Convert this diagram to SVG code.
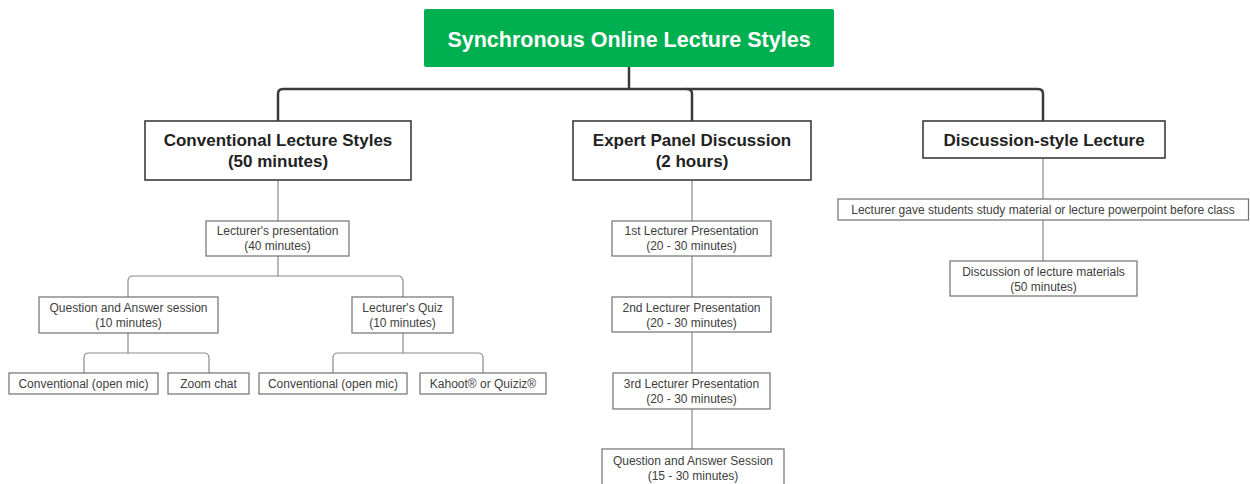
<svg xmlns="http://www.w3.org/2000/svg" width="1250" height="484" viewBox="0 0 1250 484">
<style>
.bg{fill:#ffffff}
.title{fill:#00b050}
.ttl{font-family:"Liberation Sans",Arial,sans-serif;font-weight:bold;font-size:21.5px;fill:#ffffff;text-anchor:middle}
.big{fill:#ffffff;stroke:#3c3c3c;stroke-width:1.6}
.bt{font-family:"Liberation Sans",Arial,sans-serif;font-weight:bold;font-size:17px;fill:#222222;text-anchor:middle}
.sm{fill:#ffffff;stroke:#707070;stroke-width:1.2}
.st{font-family:"Liberation Sans",Arial,sans-serif;font-size:12px;fill:#404040;text-anchor:middle}
.thick{fill:none;stroke:#3a3a3a;stroke-width:2.5}
.thin{fill:none;stroke:#8a8a8a;stroke-width:1.2}
</style>
<rect class="bg" x="0" y="0" width="1250" height="484"/>
<g id="connectors">
<path class="thick" d="M629 67 V89"/>
<path class="thick" d="M278 121 V94 Q278 89 283 89 H1038 Q1043 89 1043 94 V121"/>
<path class="thick" d="M687 89 Q692 89 692 94 V121"/>
<path class="thin" d="M278 180 V221"/>
<path class="thin" d="M278 256 V276"/>
<path class="thin" d="M128 297 V281 Q128 276 133 276 H398 Q403 276 403 281 V297"/>
<path class="thin" d="M128 333 V353"/>
<path class="thin" d="M84 373 V358 Q84 353 89 353 H204 Q209 353 209 358 V373"/>
<path class="thin" d="M403 333 V353"/>
<path class="thin" d="M333 373 V358 Q333 353 338 353 H478 Q483 353 483 358 V373"/>
<path class="thin" d="M692 180 V221"/>
<path class="thin" d="M692 256 V297"/>
<path class="thin" d="M692 332 V373"/>
<path class="thin" d="M692 409 V449"/>
<path class="thin" d="M1043 158 V199"/>
<path class="thin" d="M1043 220 V261"/>
</g>
<g id="root">
<rect class="title" x="424" y="9" width="410" height="58" rx="2"/>
<text class="ttl" x="629" y="47">Synchronous Online Lecture Styles</text>
</g>
<g id="conventional">
<rect class="big" x="145" y="121" width="266" height="59"/>
<text class="bt" x="278" y="146">Conventional Lecture Styles</text>
<text class="bt" x="278" y="167">(50 minutes)</text>
</g>
<g id="expert">
<rect class="big" x="573" y="121" width="238" height="59"/>
<text class="bt" x="692" y="146">Expert Panel Discussion</text>
<text class="bt" x="692" y="167">(2 hours)</text>
</g>
<g id="discussion">
<rect class="big" x="923" y="121" width="242" height="37"/>
<text class="bt" x="1044" y="146">Discussion-style Lecture</text>
</g>
<g id="lect-pres">
<rect class="sm" x="206" y="221" width="143" height="35"/>
<text class="st" x="277.5" y="235">Lecturer's presentation</text>
<text class="st" x="277.5" y="250">(40 minutes)</text>
</g>
<g id="qa">
<rect class="sm" x="39" y="297" width="179" height="36"/>
<text class="st" x="128.5" y="312">Question and Answer session</text>
<text class="st" x="128.5" y="327">(10 minutes)</text>
</g>
<g id="quiz">
<rect class="sm" x="352" y="297" width="101" height="36"/>
<text class="st" x="402.5" y="312">Lecturer's Quiz</text>
<text class="st" x="402.5" y="327">(10 minutes)</text>
</g>
<g id="conv1">
<rect class="sm" x="9" y="373" width="149" height="21"/>
<text class="st" x="83.5" y="388">Conventional (open mic)</text>
</g>
<g id="zoomchat">
<rect class="sm" x="168" y="373" width="81" height="21"/>
<text class="st" x="208.5" y="388">Zoom chat</text>
</g>
<g id="conv2">
<rect class="sm" x="259" y="373" width="148" height="21"/>
<text class="st" x="333" y="388">Conventional (open mic)</text>
</g>
<g id="kahoot">
<rect class="sm" x="420" y="373" width="126" height="21"/>
<text class="st" x="483" y="388">Kahoot® or Quiziz®</text>
</g>
<g id="first">
<rect class="sm" x="612" y="221" width="159" height="35"/>
<text class="st" x="691.5" y="235">1st Lecturer Presentation</text>
<text class="st" x="691.5" y="250">(20 - 30 minutes)</text>
</g>
<g id="second">
<rect class="sm" x="612" y="297" width="159" height="35"/>
<text class="st" x="691.5" y="312">2nd Lecturer Presentation</text>
<text class="st" x="691.5" y="327">(20 - 30 minutes)</text>
</g>
<g id="third">
<rect class="sm" x="613" y="373" width="157" height="36"/>
<text class="st" x="691.5" y="388">3rd Lecturer Presentation</text>
<text class="st" x="691.5" y="403">(20 - 30 minutes)</text>
</g>
<g id="qa-session">
<rect class="sm" x="602" y="449" width="182" height="40"/>
<text class="st" x="693" y="465">Question and Answer Session</text>
<text class="st" x="693" y="480">(15 - 30 minutes)</text>
</g>
<g id="gave">
<rect class="sm" x="838" y="199" width="410.5" height="21"/>
<text class="st" x="1043" y="214">Lecturer gave students study material or lecture powerpoint before class</text>
</g>
<g id="disc-materials">
<rect class="sm" x="950" y="261" width="187" height="35"/>
<text class="st" x="1043.5" y="276">Discussion of lecture materials</text>
<text class="st" x="1043.5" y="291">(50 minutes)</text>
</g>
</svg>
